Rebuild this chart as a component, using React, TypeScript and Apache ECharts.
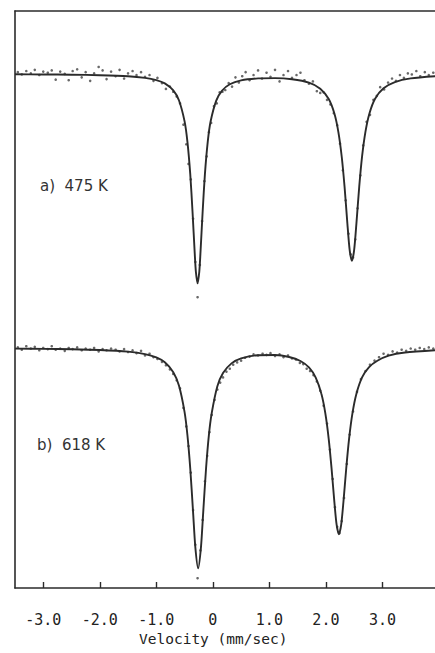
import React, { useEffect, useRef } from "react";
import * as echarts from "echarts";

// Velocity tick values (mm/sec)
const tickValues = [-3, -2, -1, 0, 1, 2, 3];

// Fitted curve, spectrum a) 475 K : [velocity, relative intensity]
const fitA: [number, number][] = [
  [-3.5, 89.03], [-3.0, 89.0], [-2.5, 88.96], [-2.0, 88.87], [-1.5, 88.69], [-1.2, 88.41],
  [-1.0, 88.02], [-0.85, 87.45], [-0.7, 86.24], [-0.6, 84.54], [-0.5, 80.88], [-0.45, 77.37],
  [-0.4, 71.77], [-0.36, 65.3], [-0.32, 57.9], [-0.3, 54.8], [-0.27, 52.8], [-0.24, 54.8],
  [-0.22, 57.9], [-0.18, 65.3], [-0.14, 71.77], [-0.09, 77.37], [-0.04, 80.85], [0.06, 84.48],
  [0.16, 86.17], [0.3, 87.3], [0.5, 87.97], [0.8, 88.32], [1.1, 88.37], [1.4, 88.18],
  [1.7, 87.59], [1.9, 86.54], [2.05, 84.74], [2.15, 82.22], [2.22, 79.06], [2.28, 74.74],
  [2.33, 69.55], [2.38, 63.16], [2.42, 58.6], [2.46, 56.7], [2.5, 58.6], [2.54, 63.2],
  [2.59, 69.6], [2.64, 74.8], [2.7, 79.1], [2.77, 82.25], [2.87, 84.8], [3.02, 86.6],
  [3.22, 87.68], [3.5, 88.32], [3.95, 88.7],
];

// Fitted curve, spectrum b) 618 K
const fitB: [number, number][] = [
  [-3.5, 41.49], [-3.0, 41.44], [-2.5, 41.38], [-2.0, 41.25], [-1.5, 40.96], [-1.2, 40.54],
  [-1.0, 39.95], [-0.85, 39.11], [-0.7, 37.4], [-0.6, 35.08], [-0.5, 30.49], [-0.45, 26.52],
  [-0.4, 20.76], [-0.35, 13.19], [-0.31, 7.08], [-0.26, 3.4], [-0.21, 7.08], [-0.17, 13.2],
  [-0.12, 20.76], [-0.07, 26.5], [-0.02, 30.3], [0.08, 34.97], [0.18, 37.26], [0.33, 38.93],
  [0.5, 39.8], [0.8, 40.34], [1.1, 40.37], [1.35, 40.04], [1.55, 39.34], [1.7, 38.22],
  [1.82, 36.46], [1.92, 33.65], [1.99, 30.27], [2.05, 25.82], [2.1, 20.74], [2.15, 14.88],
  [2.19, 10.92], [2.23, 9.32], [2.27, 10.93], [2.31, 14.9], [2.36, 20.76], [2.41, 25.85],
  [2.47, 30.3], [2.54, 33.68], [2.64, 36.5], [2.76, 38.25], [2.91, 39.38], [3.11, 40.28],
  [3.4, 40.82], [3.95, 41.21],
];

// Measured points, spectrum a)
const pointsA: [number, number][] = [
  [-3.45, 89.4], [-3.38, 89.0], [-3.3, 89.6], [-3.22, 89.2], [-3.15, 89.8], [-3.07, 88.9],
  [-3.0, 89.5], [-2.92, 89.3], [-2.85, 89.7], [-2.78, 88.1], [-2.7, 89.5], [-2.62, 89.1],
  [-2.55, 88.0], [-2.48, 89.6], [-2.4, 89.9], [-2.32, 88.5], [-2.25, 89.4], [-2.17, 87.9],
  [-2.1, 89.2], [-2.02, 90.3], [-1.95, 89.7], [-1.88, 88.2], [-1.8, 89.5], [-1.72, 88.7],
  [-1.65, 89.8], [-1.57, 88.3], [-1.5, 89.2], [-1.42, 89.6], [-1.35, 88.9], [-1.27, 89.4],
  [-1.2, 88.6], [-1.12, 88.9], [-1.05, 87.9], [-0.98, 88.4], [-0.9, 87.5], [-0.83, 86.5],
  [-0.76, 86.9], [-0.7, 86.0], [-0.64, 85.2], [-0.58, 84.0], [-0.52, 80.3], [-0.47, 76.9],
  [-0.43, 73.5], [-0.39, 70.8], [-0.35, 64.0], [-0.31, 56.5], [-0.27, 50.4], [-0.23, 56.0],
  [-0.19, 63.6], [-0.15, 70.5], [-0.11, 74.8], [-0.07, 79.0], [-0.03, 80.6], [0.02, 83.5],
  [0.07, 84.0], [0.12, 85.9], [0.17, 86.0], [0.22, 86.3], [0.28, 87.5], [0.34, 86.9],
  [0.4, 88.5], [0.46, 87.6], [0.52, 88.7], [0.58, 89.4], [0.65, 88.0], [0.72, 88.9],
  [0.8, 89.7], [0.87, 88.3], [0.95, 89.3], [1.02, 88.6], [1.1, 89.8], [1.18, 87.8],
  [1.25, 88.9], [1.33, 89.6], [1.4, 88.4], [1.48, 88.9], [1.55, 89.3], [1.62, 88.0],
  [1.7, 87.4], [1.77, 87.8], [1.84, 86.1], [1.9, 85.8], [1.96, 85.9], [2.02, 84.6],
  [2.08, 83.8], [2.14, 82.3], [2.2, 80.2], [2.25, 77.0], [2.3, 72.4], [2.35, 67.2],
  [2.4, 61.4], [2.44, 57.8], [2.48, 57.3], [2.52, 60.4], [2.56, 65.8], [2.61, 71.5],
  [2.66, 76.7], [2.72, 80.8], [2.78, 82.0], [2.84, 84.6], [2.9, 85.3], [2.96, 86.8],
  [3.03, 86.4], [3.1, 87.6], [3.17, 88.3], [3.24, 87.9], [3.31, 88.9], [3.38, 88.4],
  [3.45, 89.2], [3.52, 89.0], [3.6, 89.6], [3.67, 88.7], [3.75, 89.4], [3.82, 88.9],
  [3.9, 89.3],
];

// Measured points, spectrum b)
const pointsB: [number, number][] = [
  [-3.45, 41.7], [-3.38, 41.3], [-3.3, 41.9], [-3.22, 41.5], [-3.15, 41.8], [-3.07, 41.2],
  [-3.0, 41.6], [-2.92, 41.4], [-2.85, 41.9], [-2.78, 41.3], [-2.7, 41.5], [-2.62, 41.1],
  [-2.55, 41.6], [-2.48, 41.4], [-2.4, 41.7], [-2.32, 41.2], [-2.25, 41.5], [-2.17, 41.3],
  [-2.1, 41.6], [-2.02, 41.0], [-1.95, 41.4], [-1.88, 41.2], [-1.8, 41.5], [-1.72, 41.3],
  [-1.65, 41.0], [-1.57, 41.4], [-1.5, 40.9], [-1.42, 41.2], [-1.35, 40.7], [-1.27, 41.1],
  [-1.2, 40.3], [-1.12, 40.6], [-1.05, 40.0], [-0.98, 39.7], [-0.9, 39.2], [-0.83, 38.6],
  [-0.76, 37.9], [-0.7, 37.1], [-0.64, 36.0], [-0.58, 34.6], [-0.52, 31.2], [-0.47, 28.0],
  [-0.43, 24.6], [-0.39, 20.0], [-0.35, 13.5], [-0.31, 7.5], [-0.27, 1.7], [-0.22, 6.5],
  [-0.18, 11.8], [-0.14, 18.5], [-0.1, 22.9], [-0.06, 27.0], [-0.02, 30.0], [0.03, 32.6],
  [0.08, 34.4], [0.13, 35.6], [0.18, 36.5], [0.24, 37.5], [0.3, 38.0], [0.36, 38.7],
  [0.43, 39.1], [0.5, 39.4], [0.57, 39.9], [0.65, 40.1], [0.72, 40.5], [0.8, 40.3],
  [0.88, 40.6], [0.95, 40.4], [1.02, 40.7], [1.1, 40.2], [1.18, 40.5], [1.25, 40.0],
  [1.33, 40.3], [1.4, 39.8], [1.47, 39.6], [1.54, 39.0], [1.6, 38.8], [1.66, 38.0],
  [1.72, 37.6], [1.78, 36.9], [1.84, 35.8], [1.9, 34.2], [1.96, 31.6], [2.02, 28.5],
  [2.07, 24.0], [2.12, 18.9], [2.16, 14.0], [2.2, 10.6], [2.24, 9.5], [2.28, 11.6],
  [2.32, 15.6], [2.37, 21.5], [2.42, 26.6], [2.48, 30.6], [2.55, 34.0], [2.62, 36.2],
  [2.7, 37.6], [2.78, 38.7], [2.86, 39.4], [2.94, 40.0], [3.02, 40.6], [3.1, 40.4],
  [3.18, 41.0], [3.26, 40.8], [3.34, 41.3], [3.42, 41.1], [3.5, 41.5], [3.58, 41.3],
  [3.66, 41.6], [3.74, 41.4], [3.82, 41.7], [3.9, 41.5],
];

const labelA = "a)  475 K";
const labelB = "b)  618 K";
const axisTitle = "Velocity (mm/sec)";

const INK = "#2b2b2b";
const MONO = "'DejaVu Sans Mono', monospace";
const SANS = "'DejaVu Sans', sans-serif";

export default function App() {
  const ref = useRef<HTMLDivElement>(null);
  useEffect(() => {
    if (!ref.current) return;
    const chart = echarts.init(ref.current, undefined, { renderer: "svg" });
    const lineStyle = { color: INK, width: 1.9 };
    chart.setOption({
      animation: false,
      backgroundColor: "#ffffff",
      grid: { left: 15, right: 0, top: 11, bottom: 65, containLabel: false },
      xAxis: [
        {
          type: "value",
          min: -3.5,
          max: 3.93,
          position: "bottom",
          splitLine: { show: false },
          axisLine: { show: true, onZero: false, lineStyle: { color: INK, width: 1.6 } },
          axisTick: {
            show: true,
            inside: true,
            length: 6,
            customValues: tickValues,
            lineStyle: { color: INK, width: 1.4 },
          },
          axisLabel: {
            show: true,
            customValues: tickValues,
            margin: 24,
            color: "#222",
            fontFamily: MONO,
            fontSize: 15,
            formatter: (v: number) => (v === 0 ? "0" : v.toFixed(1)),
          },
        },
        {
          type: "value",
          min: -3.5,
          max: 3.93,
          position: "top",
          splitLine: { show: false },
          axisLine: { show: true, onZero: false, lineStyle: { color: INK, width: 1.6 } },
          axisTick: { show: false },
          axisLabel: { show: false },
        },
      ],
      yAxis: {
        type: "value",
        min: 0,
        max: 100,
        splitLine: { show: false },
        axisLine: { show: true, onZero: false, lineStyle: { color: INK, width: 1.6 } },
        axisTick: { show: false },
        axisLabel: { show: false },
      },
      series: [
        {
          type: "scatter",
          data: pointsA,
          symbol: "circle",
          symbolSize: 2.6,
          itemStyle: { color: "#444" },
          silent: true,
        },
        {
          type: "scatter",
          data: pointsB,
          symbol: "circle",
          symbolSize: 2.6,
          itemStyle: { color: "#444" },
          silent: true,
        },
        {
          type: "line",
          data: fitA,
          smooth: 0.25,
          showSymbol: false,
          lineStyle,
          silent: true,
        },
        {
          type: "line",
          data: fitB,
          smooth: 0.25,
          showSymbol: false,
          lineStyle,
          silent: true,
        },
      ],
      graphic: [
        {
          type: "text",
          left: 40,
          top: 178,
          style: { text: labelA, font: `15px ${SANS}`, fill: "#333" },
        },
        {
          type: "text",
          left: 37,
          top: 437,
          style: { text: labelB, font: `15px ${SANS}`, fill: "#333" },
        },
        {
          type: "text",
          left: 139,
          top: 631,
          style: { text: axisTitle, font: `14.5px ${MONO}`, fill: "#222" },
        },
      ],
    });
    return () => chart.dispose();
  }, []);
  return (
    <div
      ref={ref}
      style={{ position: "absolute", left: 0, top: 0, width: 435, height: 653 }}
    />
  );
}
